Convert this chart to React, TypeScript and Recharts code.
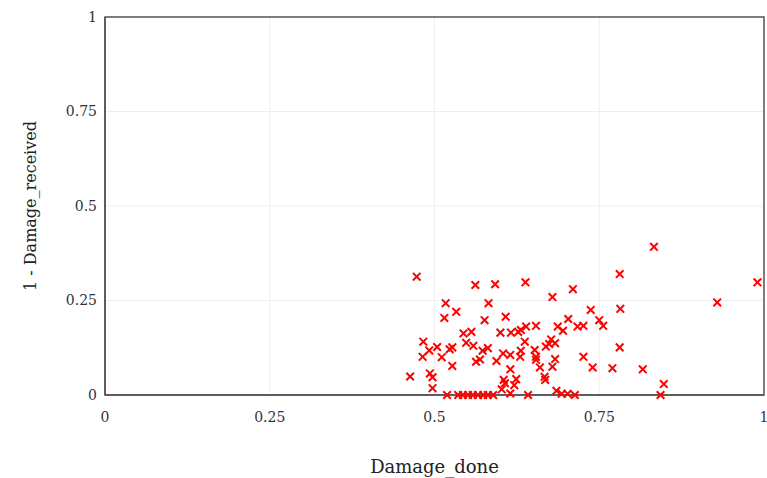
import {
  ScatterChart,
  Scatter,
  XAxis,
  YAxis,
  CartesianGrid,
  ReferenceArea,
  Label,
} from "recharts";

// values, one entry per marker
const damageDone = [
  0.473, 0.562, 0.592, 0.517, 0.533, 0.582, 0.515, 0.576, 0.544, 0.556,
  0.483, 0.548, 0.559, 0.492, 0.504, 0.523, 0.527, 0.573, 0.581, 0.482,
  0.511, 0.569, 0.563, 0.594, 0.527, 0.463, 0.493, 0.497, 0.497, 0.519,
  0.536, 0.543, 0.551, 0.558, 0.566, 0.574, 0.581, 0.589, 0.638, 0.679,
  0.71, 0.737, 0.608, 0.703, 0.6, 0.616, 0.627, 0.631, 0.639, 0.654,
  0.687, 0.695, 0.717, 0.726, 0.637, 0.677, 0.674, 0.683, 0.669, 0.604,
  0.615, 0.631, 0.63, 0.652, 0.654, 0.654, 0.683, 0.726, 0.66, 0.679,
  0.615, 0.74, 0.667, 0.668, 0.605, 0.624, 0.621, 0.602, 0.615, 0.685,
  0.702, 0.642, 0.713, 0.607, 0.693, 0.781, 0.782, 0.75, 0.756, 0.781,
  0.77, 0.816, 0.848, 0.843, 0.833, 0.99, 0.929,
];

const oneMinusDamageReceived = [
  0.313, 0.291, 0.293, 0.243, 0.22, 0.243, 0.204, 0.198, 0.163, 0.167,
  0.141, 0.138, 0.13, 0.118, 0.127, 0.121, 0.126, 0.117, 0.124, 0.101,
  0.1, 0.094, 0.088, 0.09, 0.077, 0.049, 0.057, 0.047, 0.018, 0,
  0, 0, 0, 0, 0, 0, 0, 0, 0.298, 0.259,
  0.28, 0.225, 0.207, 0.201, 0.165, 0.165, 0.167, 0.172, 0.181, 0.183,
  0.181, 0.17, 0.181, 0.183, 0.141, 0.147, 0.135, 0.137, 0.128, 0.11,
  0.106, 0.117, 0.101, 0.119, 0.101, 0.093, 0.095, 0.101, 0.073, 0.075,
  0.068, 0.073, 0.048, 0.04, 0.04, 0.042, 0.026, 0.015, 0.004, 0.011,
  0.003, 0, 0, 0.031, 0.003, 0.32, 0.228, 0.198, 0.183, 0.126,
  0.071, 0.068, 0.029, 0, 0.392, 0.298, 0.245,
];

const ticks = [0, 0.25, 0.5, 0.75, 1];

const data = damageDone.map((x, i) => ({ x, y: oneMinusDamageReceived[i] }));

const FONT = "'DejaVu Serif', serif";

function XMark(props: any) {
  const { cx, cy } = props;
  const r = 3.8;
  return (
    <path
      d={`M${cx - r},${cy - r}L${cx + r},${cy + r}M${cx - r},${cy + r}L${cx + r},${cy - r}`}
      stroke="#ff0000"
      strokeWidth={2}
      fill="none"
    />
  );
}

export default function App() {
  return (
    <div style={{ position: "absolute", left: 0, top: 0, background: "#fff" }}>
      <ScatterChart
        width={767}
        height={478}
        margin={{ top: 17, right: 3, bottom: 0, left: 0 }}
      >
        <CartesianGrid stroke="#eeeeee" />
        <XAxis
          type="number"
          dataKey="x"
          domain={[0, 1]}
          ticks={ticks}
          interval={0}
          height={83}
          tickLine={false}
          tickMargin={11}
          axisLine={{ stroke: "#555", strokeWidth: 1.5 }}
          tick={{ fill: "#333", fontSize: 14, fontFamily: FONT }}
        >
          <Label
            content={({ viewBox }: any) => (
              <text
                x={viewBox.x + viewBox.width / 2}
                y={viewBox.y + 78}
                textAnchor="middle"
                fontFamily={FONT}
                fontSize={18}
                fill="#222"
              >
                Damage_done
              </text>
            )}
          />
        </XAxis>
        <YAxis
          type="number"
          dataKey="y"
          domain={[0, 1]}
          ticks={ticks}
          interval={0}
          width={105}
          tickLine={false}
          axisLine={{ stroke: "#555", strokeWidth: 1.5 }}
          tick={{ fill: "#333", fontSize: 14, fontFamily: FONT }}
        >
          <Label
            content={({ viewBox }: any) => {
              const lx = viewBox.x + 30;
              const ly = viewBox.y + viewBox.height / 2;
              return (
                <text
                  x={lx}
                  y={ly}
                  textAnchor="middle"
                  dominantBaseline="central"
                  transform={`rotate(-90 ${lx} ${ly})`}
                  fontFamily={FONT}
                  fontSize={16}
                  fill="#222"
                >
                  1 - Damage_received
                </text>
              );
            }}
          />
        </YAxis>
        <ReferenceArea
          x1={0}
          x2={1}
          y1={0}
          y2={1}
          fill="none"
          stroke="#555"
          strokeWidth={1.5}
          ifOverflow="visible"
        />
        <Scatter data={data} shape={<XMark />} isAnimationActive={false} />
      </ScatterChart>
    </div>
  );
}
